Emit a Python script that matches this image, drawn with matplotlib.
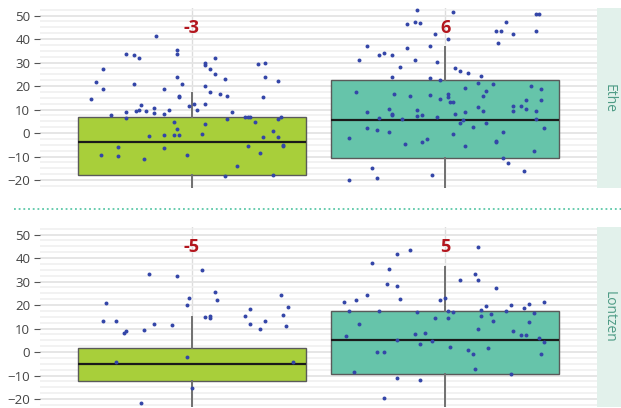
import matplotlib
matplotlib.use("Agg")
import matplotlib.pyplot as plt
import numpy as np

plt.rcParams["font.family"] = ["Open Sans", "DejaVu Sans"]

facets = ["Ethe", "Lontzen"]
groups = ["A", "B"]
box_colors = ["#a8cf3a", "#66c4aa"]
labels = [["-3", "6"], ["-5", "5"]]

# box stats per facet: (q1, median, q3, whisker low, whisker high)
ethe_box = [(-18.0, -3.7, 7.0, -30.0, 17.0), (-10.8, 5.6, 22.6, -30.0, 36.6)]
lontzen_box = [(-12.3, -5.1, 1.8, -30.0, 15.0), (-9.4, 5.1, 17.6, -30.0, 36.0)]

# jittered points: offset from category centre, value
ethe_a_dx = [-0.40, -0.38, -0.35, -0.35, -0.32, -0.36, -0.29, -0.29, -0.26, -0.23,
             -0.21, -0.23, -0.26, -0.26, -0.22, -0.21, -0.20, -0.18, -0.15, -0.15,
             -0.17, -0.19, -0.14, -0.11, -0.11, -0.09, -0.11, -0.11, -0.07, -0.06,
             -0.07, -0.05, -0.06, -0.06, -0.06, -0.04, -0.05, -0.05, -0.01, 0.01,
             0.02, -0.02, 0.04, 0.05, 0.05, 0.05, 0.05, 0.05, 0.07, 0.07,
             0.09, 0.09, 0.11, 0.13, 0.14, 0.14, 0.16, 0.13, 0.18, 0.21,
             0.22, 0.23, 0.22, 0.25, 0.26, 0.29, 0.29, 0.28, 0.27, 0.28,
             0.32, 0.32, 0.34, 0.34, 0.34, 0.35, 0.36, 0.36]
ethe_a_y = [14.6, 21.8, 27.1, 18.7, 7.5, -9.4, -9.6, -6.0, 33.8, 33.2,
            31.9, 20.7, 8.9, 6.5, 9.4, 9.6, 11.9, 9.5, 10.8, 8.5,
            -1.3, -10.9, 41.1, 18.7, 8.2, 9.6, -0.7, -6.2, 4.8, 1.6,
            -0.7, -0.7, 33.6, 35.5, 23.8, 21.0, 15.3, 15.6, 11.6, 12.3,
            9.6, -9.5, -0.6, 12.5, 4.0, 29.1, 29.8, 19.9, 17.4, 27.2,
            31.8, 25.0, 16.6, 23.0, 15.6, 6.0, 8.8, -18.2, -13.9, 6.8,
            6.8, 6.8, -5.4, 4.7, 29.4, 29.8, 23.7, 15.2, -8.5, -1.8,
            0.7, -17.9, -1.6, 22.1, 6.0, 6.8, -5.7, -5.2]

ethe_b_dx = [-0.11, 0.03, -0.15, -0.12, -0.10, -0.04, 0.01, 0.36, 0.37, 0.24,
             0.20, 0.22, 0.27, 0.36, 0.21, -0.31, -0.26, -0.24, -0.21, -0.15,
             -0.06, -0.34, -0.12, -0.03, -0.18, 0.04, 0.06, 0.09, 0.14, -0.21,
             -0.06, -0.02, -0.35, -0.20, -0.14, -0.06, -0.02, 0.01, 0.01, 0.02,
             0.03, -0.31, -0.22, -0.21, -0.21, -0.26, -0.17, -0.11, -0.11, -0.09,
             -0.03, 0.04, 0.08, 0.08, 0.13, 0.16, 0.15, 0.19, 0.13, 0.15,
             0.06, 0.07, 0.11, 0.16, 0.27, 0.27, 0.30, 0.32, 0.32, 0.34,
             0.38, 0.38, 0.36, 0.36, 0.39, -0.38, -0.31, -0.27, -0.22, -0.16,
             -0.09, -0.07, 0.03, 0.08, 0.20, 0.20, 0.23, 0.35, 0.23, 0.25,
             0.31, -0.29, -0.27, -0.38, -0.05]
ethe_b_y = [52.2, 51.5, 46.4, 47.4, 46.8, 42.1, 40.1, 50.6, 50.6, 47.1,
            43.3, 43.3, 42.0, 43.3, 38.3, 37.2, 33.3, 34.0, 33.2, 36.3,
            37.0, 30.9, 30.9, 30.4, 27.9, 27.7, 26.5, 25.4, 24.4, 23.7,
            23.5, 22.4, 17.4, 16.6, 15.6, 16.3, 14.6, 16.6, 15.5, 13.3,
            13.3, 8.8, 10.2, 8.1, 7.5, 6.4, 6.0, 9.6, 7.2, 7.5,
            7.0, 8.2, 8.8, 19.1, 21.1, 17.9, 15.9, 20.9, 11.1, 9.5,
            4.3, 5.7, 2.7, 4.3, 11.6, 9.2, 11.6, 13.9, 10.4, 19.9,
            18.6, 14.2, 9.4, 6.1, 2.0, -2.3, 2.3, 1.3, 0.3, -4.5,
            -3.7, -2.7, -0.4, -5.7, -3.4, -3.8, 0.3, -7.5, -10.6, -12.9,
            -16.2, -14.8, -19.1, -20.1, -17.7]

lontzen_a_dx = [-0.35, -0.34, -0.30, -0.30, -0.27, -0.26, -0.19, -0.17, -0.15, -0.08,
                -0.06, -0.02, -0.01, -0.02, 0.00, -0.20, 0.04, 0.05, 0.07, 0.07,
                0.09, 0.10, 0.21, 0.23, 0.23, 0.27, 0.29, 0.35, 0.36, 0.38,
                0.37, 0.40]
lontzen_a_y = [13.3, 20.8, 13.2, -4.2, 7.9, 8.8, 9.5, 33.4, 11.8, 11.5,
               32.2, 19.8, 22.9, -2.3, -15.3, -21.5, 35.1, 15.0, 15.3, 14.3,
               25.5, 22.0, 15.4, 18.1, 12.0, 9.9, 13.2, 24.2, 15.6, 19.1,
               11.0, -4.2]

lontzen_b_dx = [-0.14, -0.19, 0.13, -0.29, -0.22, -0.23, -0.19, -0.31, -0.35, -0.40,
                -0.18, -0.02, 0.00, 0.06, 0.12, 0.13, 0.20, -0.38, -0.26, -0.11,
                0.01, 0.03, 0.14, 0.16, 0.14, 0.18, 0.19, 0.24, 0.26, 0.31,
                0.33, 0.39, 0.35, 0.33, -0.04, 0.01, -0.34, -0.39, -0.12, -0.08,
                -0.19, -0.10, -0.05, 0.02, 0.13, 0.17, 0.09, 0.11, 0.27, 0.30,
                0.32, 0.37, 0.39, 0.38, -0.27, -0.24, -0.36, 0.12, 0.26, -0.19,
                -0.10, -0.24]
lontzen_b_y = [43.6, 41.5, 44.8, 38.0, 35.3, 28.8, 28.2, 24.2, 22.1, 21.1,
               22.7, 22.2, 22.9, 30.6, 33.3, 30.6, 27.2, 17.4, 17.3, 16.9,
               17.3, 17.1, 18.0, 19.7, 15.4, 16.1, 13.3, 17.3, 19.8, 18.6,
               20.3, 21.4, 16.4, 12.9, 14.3, 14.4, 11.9, 6.9, 7.8, 8.1,
               5.2, 3.4, 4.8, 2.3, 9.8, 1.7, 0.8, -1.0, 8.8, 7.2,
               7.2, 5.8, 4.1, -0.8, 0.1, 0.1, -8.4, -7.1, -9.2, -10.9,
               -11.9, -19.4]

boxes = [ethe_box, lontzen_box]
points = [[(ethe_a_dx, ethe_a_y), (ethe_b_dx, ethe_b_y)],
          [(lontzen_a_dx, lontzen_a_y), (lontzen_b_dx, lontzen_b_y)]]

fig = plt.figure(figsize=(6.21, 4.08), dpi=100)
W, H = 621.0, 408.0
panel_px = [(8, 188), (227, 407)]   # top / bottom of each panel, in pixels from top

for r, facet in enumerate(facets):
    top, bot = panel_px[r]
    ax = fig.add_axes([40 / W, (H - bot) / H, 557 / W, (bot - top) / H])

    # grid
    ax.set_yticks(np.arange(-20, 51, 10))
    ax.set_yticks(np.arange(-22.5, 53, 2.5), minor=True)
    ax.grid(axis="y", which="major", color="#e4e4e4", lw=1.3, zorder=0)
    ax.grid(axis="y", which="minor", color="#efefef", lw=1.1, zorder=0)
    for xc in range(len(groups)):
        ax.axvline(xc, color="#dddddd", lw=1, zorder=0)

    stats = []
    for (q1, med, q3, wlo, whi) in boxes[r]:
        stats.append(dict(q1=q1, med=med, q3=q3, whislo=wlo, whishi=whi, fliers=[]))
    bp = ax.bxp(stats, positions=range(len(groups)), widths=0.9, patch_artist=True,
                showcaps=False, showfliers=False, manage_ticks=False,
                boxprops=dict(edgecolor="#5a5a5a", lw=1),
                medianprops=dict(color="#1a1a1a", lw=1.6),
                whiskerprops=dict(color="#707070", lw=1.4))
    for patch, c in zip(bp["boxes"], box_colors):
        patch.set_facecolor(c)
        patch.set_zorder(2)
    for m in bp["medians"]:
        m.set_zorder(3)

    for g, (dx, yv) in enumerate(points[r]):
        ax.scatter(g + np.asarray(dx), yv, s=8, color="#3446a8", zorder=4, lw=0)
        ax.text(g, 44.5, labels[r][g], color="#b3161e", fontsize=13, fontweight="bold",
                ha="center", va="center", zorder=5)

    ax.set_xlim(-0.6, 1.6)
    ax.set_ylim(-23.4, 53.2)
    ax.set_xticks([])
    for s in ax.spines.values():
        s.set_visible(False)
    ax.tick_params(axis="y", which="major", length=4, color="#555555", labelcolor="#444444",
                   labelsize=9.5, pad=3)
    ax.tick_params(axis="y", which="minor", length=0)

    # facet strip
    sx = fig.add_axes([597 / W, (H - bot) / H, 26 / W, (bot - top) / H])
    sx.set_facecolor("#e2f1eb")
    sx.set_xticks([]); sx.set_yticks([])
    for s in sx.spines.values():
        s.set_visible(False)
    sx.text(0.45, 0.5, facet, rotation=-90, ha="center", va="center",
            color="#4f9c86", fontsize=10, transform=sx.transAxes)

# dotted separator between the panels
fig.add_artist(plt.Line2D([14 / W, 1.0], [(H - 209) / H, (H - 209) / H],
                          color="#5cc8a8", lw=1.3, ls=(0, (1, 1.6))))

fig.savefig("out.png", dpi=100)
